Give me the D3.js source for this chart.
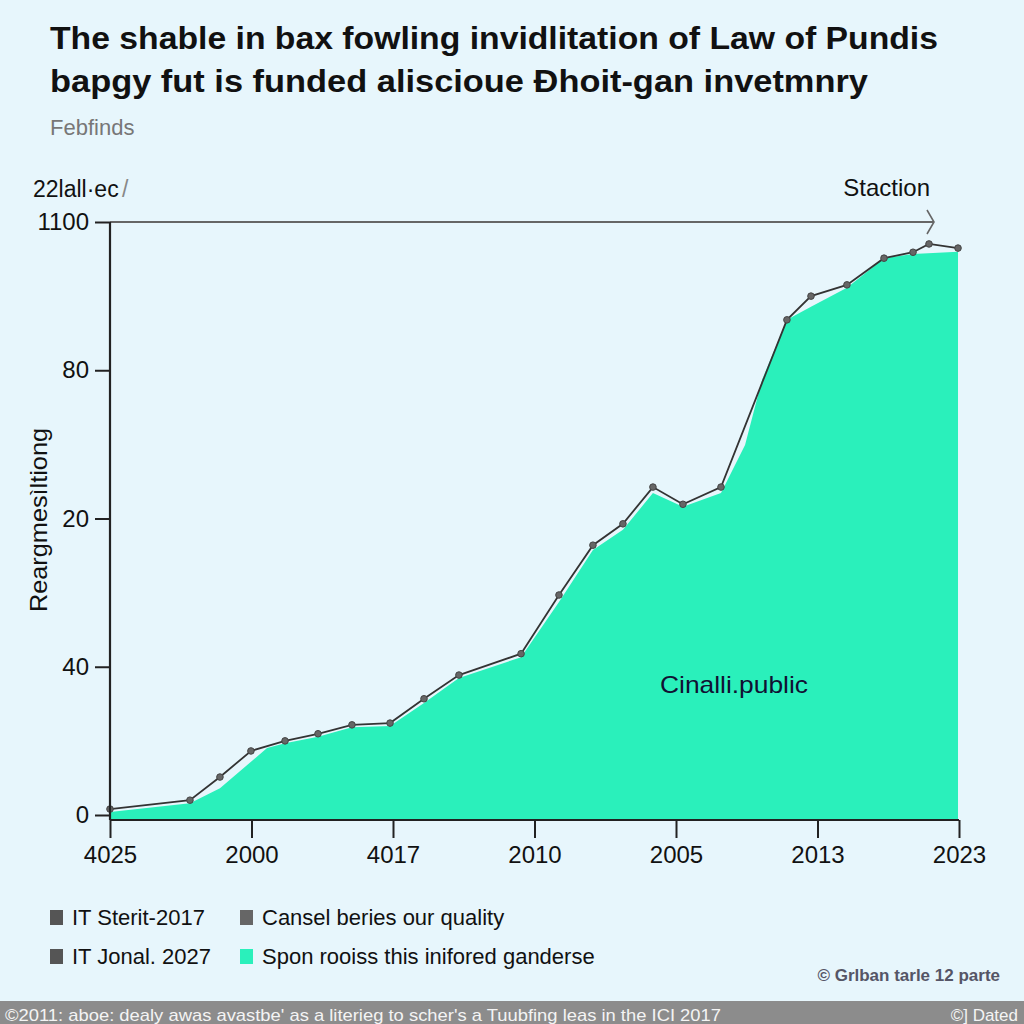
<!DOCTYPE html>
<html><head><meta charset="utf-8">
<script src="https://cdn.jsdelivr.net/npm/d3@7"></script>
<style>
html,body{margin:0;padding:0;background:#e7f6fc;}
svg{display:block;font-family:"Liberation Sans",Arial,sans-serif;}
</style></head><body>
<svg id="c" width="1024" height="1024"></svg>
<script>
// ---- data ----
const titleLines = ["The shable in bax fowling invidlitation of Law of Pundis",
                    "bapgy fut is funded aliscioue Ɖhoit-gan invetmnry"];
const subtitle = "Febfinds";
const xTickLabels = ["4025","2000","4017","2010","2005","2013","2023"];
const yTickLabels = ["0","40","20","80","1100"];
// line series (x in axis units, y in axis units)
const lineX = [0,0.565,0.777,0.996,1.237,1.470,1.710,1.979,2.219,2.466,2.905,3.173,3.413,3.625,3.837,4.049,4.318,4.784,4.954,5.208,5.470,5.675,5.788,5.993];
const lineY = [1.0,2.5,6.4,10.8,12.5,13.7,15.2,15.5,19.6,23.6,27.2,37.1,45.5,49.1,55.3,52.4,55.3,83.5,87.5,89.4,93.9,94.9,96.3,95.6];
// area series
const areaX = [0,0.565,0.777,1.110,1.237,1.470,1.710,1.979,2.219,2.466,2.905,3.173,3.413,3.625,3.837,4.049,4.318,4.488,4.608,4.784,4.954,5.208,5.470,5.675,5.993];
const areaY = [0.5,2.0,4.5,11.3,12.1,13.2,14.8,15.0,18.9,23.1,26.6,35.9,44.7,48.1,54.3,52.0,54.3,62.4,73.4,83.5,85.7,88.9,93.9,94.6,95.0];
const legendItems = ["IT Sterit-2017","Cansel beries our quality","IT Jonal. 2027","Spon rooiss this inifored ganderse"];
const legendColors = ["#555","#666","#555","#2af0bb"];

(function(){
// ---- layout ----
const svg = d3.select("#c");
const pLeft = 110, pRight = 959, pTop = 222, zeroY = 815, pBottom = 820;
const x = d3.scaleLinear().domain([0,6]).range([pLeft,pRight]);
const y = d3.scaleLinear().domain([0,100]).range([zeroY,pTop]);

svg.append("rect").attr("width",1024).attr("height",1024).attr("fill","#e7f6fc");

// title
svg.selectAll("text.title").data(titleLines).enter().append("text")
  .attr("x",50).attr("y",(d,i)=>49+i*43)
  .attr("font-size",31).attr("font-weight","bold").attr("fill","#111")
  .attr("textLength",(d,i)=>i===0?888:818).attr("lengthAdjust","spacingAndGlyphs")
  .text(d=>d);
svg.append("text").attr("x",50).attr("y",135).attr("font-size",22).attr("fill","#777").text(subtitle);

// area
const area = d3.area().x((d,i)=>x(areaX[i])).y0(pBottom).y1(d=>y(d));
svg.append("path").datum(areaY).attr("d",area).attr("fill","#2af0bb");

// top reference line with arrow
svg.append("line").attr("x1",pLeft).attr("x2",933).attr("y1",y(100)).attr("y2",y(100))
  .attr("stroke","#666").attr("stroke-width",2);
svg.append("path").attr("d",`M${927},${y(100)-12}L${934},${y(100)}L${927},${y(100)+12}`)
  .attr("fill","none").attr("stroke","#666").attr("stroke-width",1.6);

// line
const line = d3.line().x((d,i)=>x(lineX[i])).y(d=>y(d));
svg.append("path").datum(lineY).attr("d",line).attr("fill","none").attr("stroke","#333").attr("stroke-width",1.8);
svg.selectAll("circle.pt").data(lineY).enter().append("circle")
  .attr("cx",(d,i)=>x(lineX[i])).attr("cy",d=>y(d)).attr("r",3.3)
  .attr("fill","#666").attr("stroke","#444").attr("stroke-width",1);

// y axis
const yAxis = d3.axisLeft(y).tickValues([0,25,50,75,100]).tickFormat((d,i)=>yTickLabels[i]).tickSize(15).tickPadding(6);
const gy = svg.append("g").attr("transform",`translate(${pLeft},0)`).call(yAxis);
gy.select(".domain").remove();
gy.append("line").attr("x1",0).attr("x2",0).attr("y1",pTop).attr("y2",pBottom).attr("stroke","#222").attr("stroke-width",2.2);
gy.selectAll(".tick line").attr("stroke","#222").attr("stroke-width",2);
gy.selectAll(".tick text").attr("font-size",24).attr("fill","#111").attr("font-family","Liberation Sans, Arial, sans-serif");

// x axis
const xAxis = d3.axisBottom(x).tickValues([0,1,2,3,4,5,6]).tickFormat((d,i)=>xTickLabels[i]).tickSize(18).tickPadding(8);
const gx = svg.append("g").attr("transform",`translate(0,${pBottom})`).call(xAxis);
gx.select(".domain").remove();
gx.append("line").attr("x1",pLeft).attr("x2",pRight).attr("stroke","#222").attr("stroke-width",2.2);
gx.selectAll(".tick line").attr("stroke","#222").attr("stroke-width",2);
gx.selectAll(".tick text").attr("font-size",24).attr("fill","#111").attr("font-family","Liberation Sans, Arial, sans-serif");

// axis annotations
svg.append("text").attr("x",33).attr("y",197).attr("font-size",23).attr("fill","#111").text("22lall·ec");
svg.append("text").attr("x",122).attr("y",197).attr("font-size",23).attr("fill","#888").text("/");
svg.append("text").attr("x",930).attr("y",196).attr("text-anchor","end").attr("font-size",24).attr("fill","#111").text("Staction");
svg.append("text").attr("transform","translate(47,520) rotate(-90)").attr("text-anchor","middle")
  .attr("font-size",24).attr("fill","#111").attr("textLength",184).attr("lengthAdjust","spacingAndGlyphs").text("Reargmesìltiong");
svg.append("text").attr("x",660).attr("y",693).attr("font-size",24).attr("fill","#113")
  .attr("textLength",148).attr("lengthAdjust","spacingAndGlyphs").text("Cinalli.public");

// legend
const lg = svg.append("g");
const pos = [[50,917],[240,917],[50,956],[240,956]];
legendItems.forEach((t,i)=>{
  lg.append("rect").attr("x",pos[i][0]).attr("y",pos[i][1]-7).attr("width",13).attr("height",15).attr("fill",legendColors[i]);
  lg.append("text").attr("x",pos[i][0]+22).attr("y",pos[i][1]+8).attr("font-size",22).attr("fill","#111").text(t);
});
svg.append("text").attr("x",1000).attr("y",981).attr("text-anchor","end").attr("font-size",17).attr("font-weight","bold").attr("fill","#556").text("© Grlban tarle 12 parte");

// footer
svg.append("rect").attr("x",0).attr("y",1001).attr("width",1024).attr("height",23).attr("fill","#8c8c8c");
svg.append("text").attr("x",5).attr("y",1021).attr("font-size",17).attr("fill","#f4f4f4")
  .attr("textLength",716).attr("lengthAdjust","spacingAndGlyphs")
  .text("©2011: aboe: dealy awas avastbe' as a literieg to scher's a Tuubfing leas in the ICI 2017");
svg.append("text").attr("x",1018).attr("y",1021).attr("text-anchor","end").attr("font-size",17).attr("fill","#f4f4f4").text("©] Dated");
})();
</script></body></html>
